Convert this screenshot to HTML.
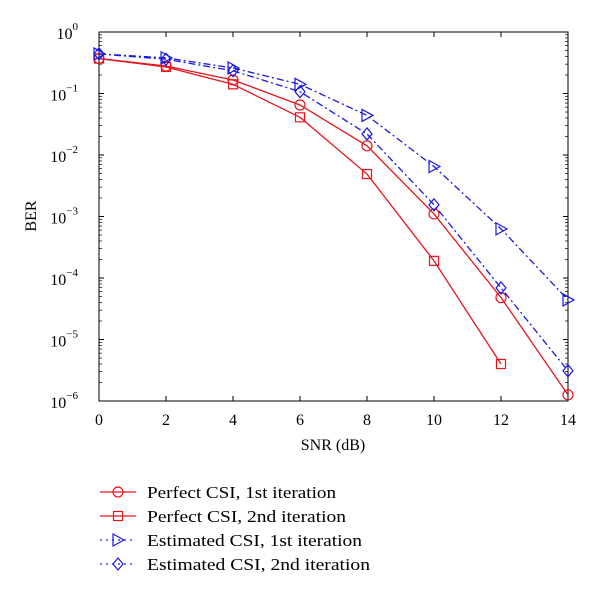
<!DOCTYPE html>
<html><head><meta charset="utf-8"><style>
body{margin:0;background:#fff;}
svg text{font-family:"Liberation Serif",serif;fill:#000;}
</style></head><body>
<svg id="chart" width="600" height="595" viewBox="0 0 600 595" xmlns="http://www.w3.org/2000/svg"></svg>
<script>
const snr = [0,2,4,6,8,10,12,14];
const perfect1 = [0.37,0.28,0.166,0.065,0.0141,0.0011,0.000048,0.00000126];
const perfect2 = [0.37,0.27,0.141,0.041,0.0049,0.00019,0.0000040];
const estimated1 = [0.44,0.38,0.26,0.141,0.044,0.0065,0.00063,0.000044];
const estimated2 = [0.44,0.36,0.234,0.107,0.022,0.00155,0.000069,0.0000031];
const xTicks = [0,2,4,6,8,10,12,14];
const yExps = [0,-1,-2,-3,-4,-5,-6];

const NS="http://www.w3.org/2000/svg";
const svg=document.getElementById('chart');
const L=99,R=568,T=32,B=401;
function X(v){return L+(v-0)/14*(R-L);}
function Y(v){return T+(-Math.log10(v))/6*(B-T);}
function el(tag,attrs,parent){const e=document.createElementNS(NS,tag);for(const k in attrs)e.setAttribute(k,attrs[k]);(parent||svg).appendChild(e);return e;}

const frame=el('rect',{x:L,y:T,width:R-L,height:B-T,fill:'none',stroke:'#000','stroke-width':1});



xTicks.forEach(t=>{
  el('line',{x1:X(t),x2:X(t),y1:B,y2:B-5,stroke:'#000'});
  el('line',{x1:X(t),x2:X(t),y1:T,y2:T+5,stroke:'#000'});
  const tx=el('text',{x:X(t),y:425,'text-anchor':'middle','font-size':16});
  tx.textContent=t;
  
  
});
yExps.forEach(e=>{
  const y=Y(Math.pow(10,e));
  el('line',{x1:L,x2:L+5,y1:y,y2:y,stroke:'#000'});
  el('line',{x1:R,x2:R-5,y1:y,y2:y,stroke:'#000'});
  if(e>-6){for(let m=2;m<10;m++){const ym=Y(m*Math.pow(10,e-1));
    el('line',{x1:L,x2:L+3,y1:ym,y2:ym,stroke:'#000','stroke-width':0.7});
    el('line',{x1:R,x2:R-3,y1:ym,y2:ym,stroke:'#000','stroke-width':0.7});}}
  const tx=el('text',{x:78,y:y+7,'text-anchor':'end','font-size':16});
  tx.textContent='10';
  const sp=el('tspan',{dy:-9,'font-size':11},tx);
  sp.textContent=String(e).replace('-','\u2212');
  
  
});
const xl=el('text',{x:333,y:450,'text-anchor':'middle','font-size':16});xl.textContent='SNR (dB)';


const yl=el('text',{x:36,y:216,'text-anchor':'middle','font-size':16,transform:'rotate(-90 36 216)'});yl.textContent='BER';



function marker(g,type,x,y,c){
  if(type==='o')el('circle',{cx:x,cy:y,r:5,fill:'none',stroke:c,'stroke-width':1.2},g);
  else if(type==='s')el('rect',{x:x-4.5,y:y-4.5,width:9,height:9,fill:'none',stroke:c,'stroke-width':1.2},g);
  else if(type==='t')el('polygon',{points:`${x-5},${y-6} ${x+6},${y} ${x-5},${y+6}`,fill:'none',stroke:c,'stroke-width':1.2},g);
  else el('polygon',{points:`${x},${y-6} ${x+5},${y} ${x},${y+6} ${x-5},${y}`,fill:'none',stroke:c,'stroke-width':1.2},g);
}
const series=[
  {name:'series-perfect-1st',data:perfect1,c:'#e8141c',m:'o',dash:'',label:'Perfect CSI, 1st iteration',w:189},
  {name:'series-perfect-2nd',data:perfect2,c:'#e8141c',m:'s',dash:'',label:'Perfect CSI, 2nd iteration',w:199},
  {name:'series-estimated-1st',data:estimated1,c:'#1a1adf',m:'t',dash:'7 3 2 3',label:'Estimated CSI, 1st iteration',w:215},
  {name:'series-estimated-2nd',data:estimated2,c:'#1a1adf',m:'d',dash:'7 3 2 3',label:'Estimated CSI, 2nd iteration',w:223}
];
series.forEach((s,i)=>{
  const g=el('g',{});
  
  
  const pts=s.data.map((v,j)=>X(snr[j])+','+Y(v)).join(' ');
  el('polyline',{points:pts,fill:'none',stroke:s.c,'stroke-width':1.3,'stroke-dasharray':s.dash},g);
  s.data.forEach((v,j)=>marker(g,s.m,X(snr[j]),Y(v),s.c));
  const ly=492+i*24;
  const lg=el('g',{});
  
  
  el('line',{x1:100,x2:136,y1:ly,y2:ly,stroke:s.c,'stroke-width':1.3,'stroke-dasharray':s.dash?'2 4':''},lg);
  marker(lg,s.m,118,ly,s.c);
  const t=el('text',{x:147,y:ly+6,'font-size':17,textLength:s.w,lengthAdjust:'spacingAndGlyphs'},lg);t.textContent=s.label;
});
</script>
</body></html>
